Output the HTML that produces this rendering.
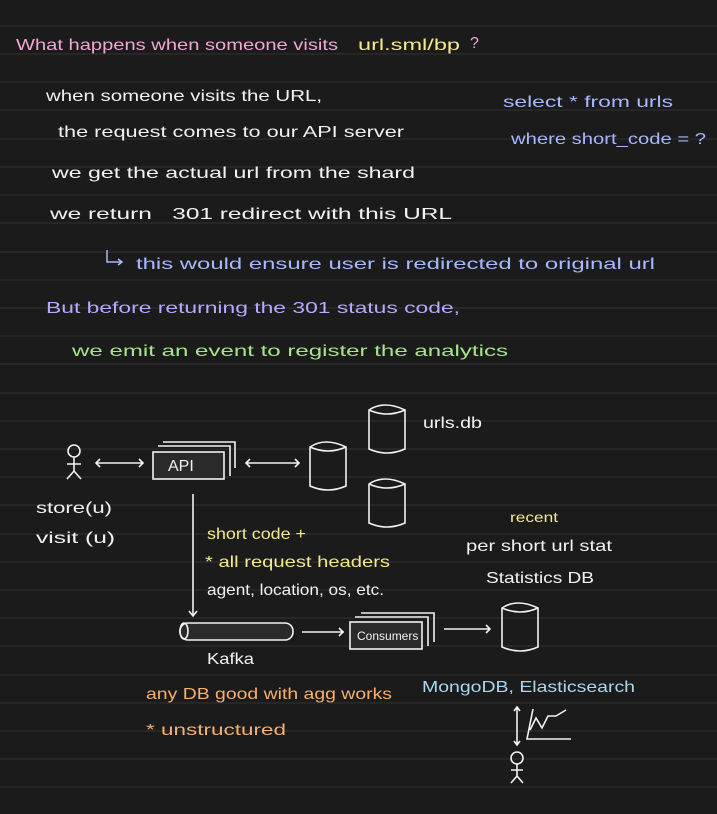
<!DOCTYPE html>
<html><head><meta charset="utf-8"><style>
html,body{margin:0;padding:0;background:#1b1b1b;}
svg{display:block}
text{font-family:"Liberation Sans",sans-serif;font-size:16px;}
.w{fill:#f2f2f2}
</style></head><body>
<svg width="717" height="814" xmlns="http://www.w3.org/2000/svg">
<rect width="717" height="814" fill="#1b1b1b"/>
<g stroke="#2b2b2b" stroke-width="1.5">
<line x1="0" x2="717" y1="26" y2="26"/><line x1="0" x2="717" y1="54" y2="54"/><line x1="0" x2="717" y1="82" y2="82"/><line x1="0" x2="717" y1="110" y2="110"/><line x1="0" x2="717" y1="139" y2="139"/><line x1="0" x2="717" y1="167" y2="167"/><line x1="0" x2="717" y1="195" y2="195"/><line x1="0" x2="717" y1="223" y2="223"/><line x1="0" x2="717" y1="252" y2="252"/><line x1="0" x2="717" y1="280" y2="280"/><line x1="0" x2="717" y1="308" y2="308"/><line x1="0" x2="717" y1="336" y2="336"/><line x1="0" x2="717" y1="364" y2="364"/><line x1="0" x2="717" y1="393" y2="393"/><line x1="0" x2="717" y1="421" y2="421"/><line x1="0" x2="717" y1="449" y2="449"/><line x1="0" x2="717" y1="477" y2="477"/><line x1="0" x2="717" y1="505" y2="505"/><line x1="0" x2="717" y1="534" y2="534"/><line x1="0" x2="717" y1="562" y2="562"/><line x1="0" x2="717" y1="590" y2="590"/><line x1="0" x2="717" y1="618" y2="618"/><line x1="0" x2="717" y1="646" y2="646"/><line x1="0" x2="717" y1="675" y2="675"/><line x1="0" x2="717" y1="703" y2="703"/><line x1="0" x2="717" y1="731" y2="731"/><line x1="0" x2="717" y1="759" y2="759"/><line x1="0" x2="717" y1="787" y2="787"/>
</g>
<g style="font-size:17px" lengthAdjust="spacingAndGlyphs">
<text x="16" y="50" fill="#f2a6d8" textLength="322" lengthAdjust="spacingAndGlyphs">What happens when someone visits</text>
<text x="358" y="50" fill="#f5e98a" textLength="102" lengthAdjust="spacingAndGlyphs">url.sml/bp</text><text x="470" y="48" fill="#f2a6d8">?</text>
<text class="w" x="46" y="101" textLength="276" lengthAdjust="spacingAndGlyphs">when someone visits the URL,</text>
<text class="w" x="58" y="137" textLength="346" lengthAdjust="spacingAndGlyphs">the request comes to our API server</text>
<text class="w" x="52" y="178" textLength="363" lengthAdjust="spacingAndGlyphs">we get the actual url from the shard</text>
<text class="w" x="50" y="219" textLength="402" lengthAdjust="spacingAndGlyphs">we return&#160;&#160; 301 redirect with this URL</text>
<text x="503" y="107" fill="#a8b8ff" textLength="170" lengthAdjust="spacingAndGlyphs">select * from urls</text>
<text x="511" y="144" fill="#a8b8ff" textLength="195" lengthAdjust="spacingAndGlyphs">where short_code = ?</text>
<text x="136" y="269" fill="#a8b8ff" textLength="519" lengthAdjust="spacingAndGlyphs">this would ensure user is redirected to original url</text>
<text x="46" y="313" fill="#b8a8ff" textLength="414" lengthAdjust="spacingAndGlyphs">But before returning the 301 status code,</text>
<text x="72" y="356" fill="#a6e58a" textLength="436" lengthAdjust="spacingAndGlyphs">we emit an event to register the analytics</text>
</g>
<path d="M107 250 v12 h14" stroke="#a8b8ff" fill="none" stroke-width="1.5"/><path d="M118 259 l4 3 -4 3" stroke="#a8b8ff" fill="none" stroke-width="1.5"/>
<g stroke="#f2f2f2" stroke-width="1.6" fill="none">
<circle cx="74" cy="451" r="6"/><path d="M74 457 v14 M67 464 h14 M74 471 l-7 8 M74 471 l7 8"/>
<path d="M96 463 h47 M100 459 l-4 4 4 4 M139 459 l4 4 -4 4"/>
<path d="M163 442 h72 v26 M158 446 h72 v30"/>
<rect x="153" y="452" width="71" height="27" fill="#2a2a2a"/>
<path d="M246 463 h53 M250 459 l-4 4 4 4 M295 459 l4 4 -4 4"/>
<path d="M310 447 q15 -10 36 0 v39 q-18 8 -36 0 z"/><path d="M310 447 q18 8 36 0"/>
<path d="M369 410 q15 -10 36 0 v39 q-18 8 -36 0 z"/><path d="M369 410 q18 8 36 0"/>
<path d="M369 484 q15 -10 36 0 v39 q-18 8 -36 0 z"/><path d="M369 484 q18 8 36 0"/>
<path d="M193 494 v122 M189 611 l4 5 4 -5"/>
<rect x="180" y="623" width="113" height="17" rx="8" fill="#2a2a2a"/><ellipse cx="184" cy="631" rx="4" ry="8"/>
<path d="M302 632 h42 M339 628 l4 4 -4 4"/>
<path d="M361 613 h73 v29 M355 617 h73 v29"/>
<rect x="350" y="622" width="72" height="27" fill="#2a2a2a"/>
<path d="M444 629 h46 M486 625 l4 4 -4 4"/>
<path d="M502 608 q15 -10 36 0 v39 q-18 8 -36 0 z"/><path d="M502 608 q18 8 36 0"/>
<path d="M517 707 v38 M514 711 l3 -4 3 4 M514 741 l3 4 3 -4"/>
<path d="M533 709 l-6 30 h44 M530 730 l6 -12 6 10 6 -12 8 0 10 -6"/>
<circle cx="517" cy="758" r="6"/><path d="M517 764 v12 M511 770 h12 M517 776 l-6 7 M517 776 l6 7"/>
</g>
<text class="w" x="168" y="471">API</text>
<text class="w" x="423" y="428" textLength="59" lengthAdjust="spacingAndGlyphs">urls.db</text>
<text class="w" x="36" y="513" textLength="76" lengthAdjust="spacingAndGlyphs">store(u)</text>
<text class="w" x="36" y="543" textLength="79" lengthAdjust="spacingAndGlyphs">visit (u)</text>
<text x="207" y="539" fill="#f5e98a" textLength="99" lengthAdjust="spacingAndGlyphs">short code +</text>
<text x="205" y="567" fill="#f5e98a" textLength="185" lengthAdjust="spacingAndGlyphs">* all request headers</text>
<text class="w" x="207" y="595" textLength="177" lengthAdjust="spacingAndGlyphs">agent, location, os, etc.</text>
<text class="w" x="357" y="640" style="font-size:12px">Consumers</text>
<text class="w" x="207" y="664" textLength="47" lengthAdjust="spacingAndGlyphs">Kafka</text>
<text x="510" y="522" fill="#f5e98a" style="font-size:14px" textLength="48" lengthAdjust="spacingAndGlyphs">recent</text>
<text class="w" x="466" y="551" textLength="146" lengthAdjust="spacingAndGlyphs">per short url stat</text>
<text class="w" x="486" y="583" textLength="108" lengthAdjust="spacingAndGlyphs">Statistics DB</text>
<text x="422" y="692" fill="#a8d8f0" textLength="213" lengthAdjust="spacingAndGlyphs">MongoDB, Elasticsearch</text>
<text x="146" y="699" fill="#f5b070" textLength="246" lengthAdjust="spacingAndGlyphs">any DB good with agg works</text>
<text x="146" y="735" fill="#f5b070" textLength="140" lengthAdjust="spacingAndGlyphs">* unstructured</text>
</svg>
</body></html>
